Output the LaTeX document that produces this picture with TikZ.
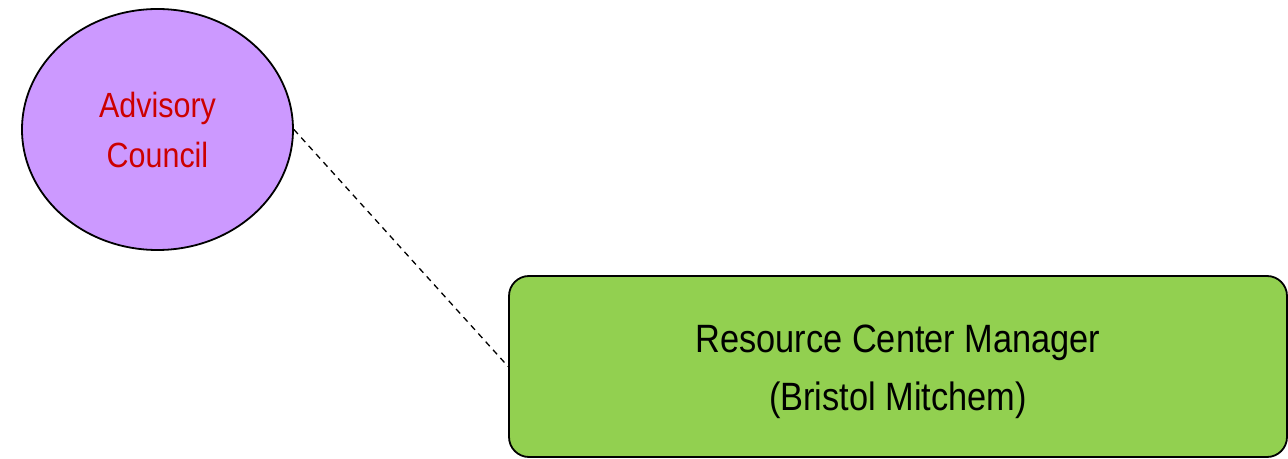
\documentclass[tikz,border=0pt]{standalone}
\usepackage{fontspec}
\setmainfont{Liberation Sans}[FakeStretch=0.87]
\usetikzlibrary{shapes.geometric}
\definecolor{councilfill}{HTML}{CC99FF}
\definecolor{councilred}{HTML}{CC0000}
\definecolor{managerfill}{HTML}{92D050}
\begin{document}
\begin{tikzpicture}[x=1pt, y=1pt,
    council node/.style={ellipse, draw, line width=1.8pt, fill=councilfill, minimum width=271pt, minimum height=241pt, text=councilred, align=center, font=\fontsize{35}{50}\selectfont},
    manager node/.style={rectangle, rounded corners=20pt, draw, line width=1.8pt, fill=managerfill, minimum width=778pt, minimum height=181pt, align=center, font=\fontsize{40}{58}\selectfont}]
        \useasboundingbox (0,0) rectangle (1288,458);

          \node[council node] (council) at (157.5,328.5) {Advisory\\Council};
          \node[manager node] (manager) at (898,91.5) {};
          \node[font=\fontsize{39.5}{58}\selectfont, align=center] (managername) at (898,86) {Resource Center Manager\\(Bristol Mitchem)};

          \path[dashed, line width=1.3pt, dash pattern=on 6pt off 5pt]
            (council.east) edge (manager.west);

        \end{tikzpicture}
\end{document}
